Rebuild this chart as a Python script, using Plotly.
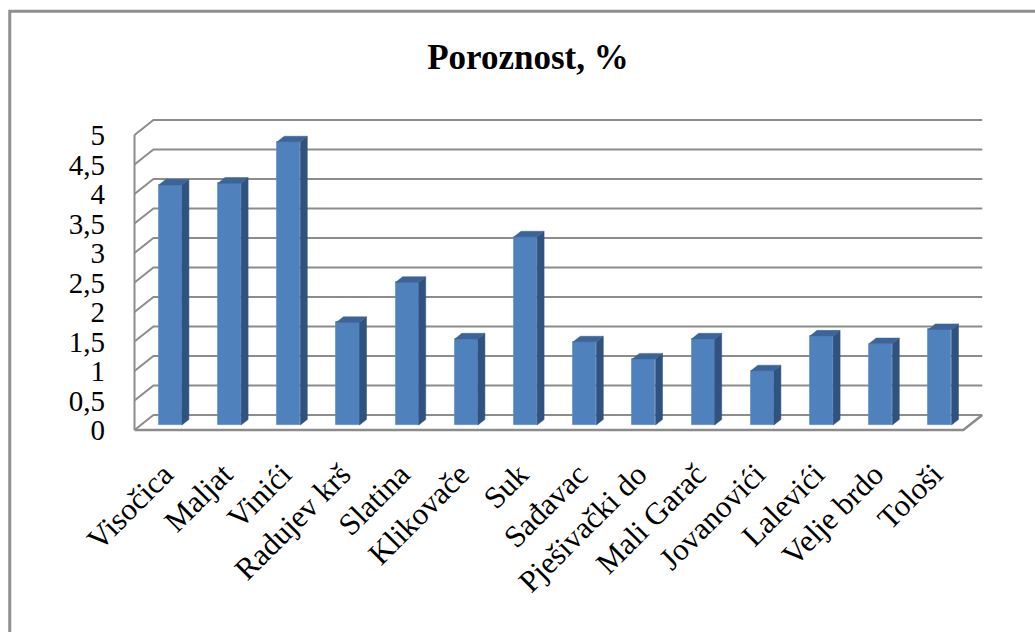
import plotly.graph_objects as go

# Poroznost (%) po lokalitetima
CATEGORIES = [
    "Visočica", "Maljat", "Vinići", "Radujev krš", "Slatina", "Klikovače",
    "Suk", "Sađavac", "Pješivački do", "Mali Garač", "Jovanovići",
    "Lalevići", "Velje brdo", "Tološi",
]
POROZNOST = [4.07, 4.10, 4.80, 1.74, 2.42, 1.46, 3.19, 1.41, 1.12, 1.46,
             0.92, 1.51, 1.38, 1.62]
Y_TICKS = [0, 0.5, 1, 1.5, 2, 2.5, 3, 3.5, 4, 4.5, 5]

# --- page / plot-area geometry (pixels) ---
W, H = 1035, 632
ML, MR, MT, MB = 120, 35, 100, 192
X_RANGE = [-0.845, 14.02]
Y_RANGE = [-0.1695, 5.593]

# --- oblique 3-D box, in data units ---
DEPTH_X, DEPTH_Y = 0.32, 0.255        # offset of the back wall from the front plane
FRONT_LEFT = -0.6
FRONT_RIGHT = FRONT_LEFT + len(CATEGORIES)
BAR_HALF = 0.195                      # half width of a column's front face
BAR_Z0, BAR_Z1 = 0.33, 0.70           # column front / back depth (fraction of box depth)

BLUE_FRONT = "#4f81bd"
BLUE_SIDE = "#30527f"
BLUE_TOP = "#3c6498"
GRID = "#8c8c8c"
FONT = "Liberation Serif"

n = len(CATEGORIES)
slot_centers = [FRONT_LEFT + 0.5 + i for i in range(n)]   # category centres on the front plane
face_x = [c + BAR_Z0 * DEPTH_X for c in slot_centers]     # column faces sit a bit deeper
bar_base = BAR_Z0 * DEPTH_Y
dzx = (BAR_Z1 - BAR_Z0) * DEPTH_X
dzy = (BAR_Z1 - BAR_Z0) * DEPTH_Y

fig = go.Figure()

# gridlines (left wall diagonal + back wall horizontal), drawn beneath the columns
for v in Y_TICKS:
    fig.add_shape(type="path", xref="x", yref="y", layer="below",
                  path="M {},{} L {},{} L {},{}".format(
                      FRONT_LEFT, v, FRONT_LEFT + DEPTH_X, v + DEPTH_Y,
                      FRONT_RIGHT + DEPTH_X, v + DEPTH_Y),
                  line=dict(color=GRID, width=2))

# left wall front edge and floor outline
fig.add_shape(type="line", xref="x", yref="y", layer="below",
              x0=FRONT_LEFT, y0=0, x1=FRONT_LEFT, y1=Y_TICKS[-1],
              line=dict(color=GRID, width=2))
fig.add_shape(type="path", xref="x", yref="y", layer="below",
              path="M {},{} L {},{} L {},{}".format(
                  FRONT_LEFT, 0, FRONT_RIGHT, 0, FRONT_RIGHT + DEPTH_X, DEPTH_Y),
              line=dict(color=GRID, width=2.5))

# column front faces
fig.add_trace(go.Bar(x=face_x, y=POROZNOST, base=bar_base, width=2 * BAR_HALF,
                     marker=dict(color=BLUE_FRONT, line=dict(color="#5b8cc8", width=0.8)),
                     showlegend=False, name="Poroznost, %"))

# column side faces and top faces
sx, sy, tx, ty = [], [], [], []
for xc, v in zip(face_x, POROZNOST):
    xl, xr = xc - BAR_HALF, xc + BAR_HALF
    top = bar_base + v
    sx += [xr, xr + dzx, xr + dzx, xr, xr, None]
    sy += [bar_base, bar_base + dzy, top + dzy, top, bar_base, None]
    tx += [xl, xr, xr + dzx, xl + dzx, xl, None]
    ty += [top, top, top + dzy, top + dzy, top, None]
fig.add_trace(go.Scatter(x=sx, y=sy, mode="lines", fill="toself",
                         fillcolor=BLUE_SIDE, line=dict(color=BLUE_SIDE, width=0.5),
                         hoverinfo="skip", showlegend=False))
fig.add_trace(go.Scatter(x=tx, y=ty, mode="lines", fill="toself",
                         fillcolor=BLUE_TOP, line=dict(color=BLUE_TOP, width=0.5),
                         hoverinfo="skip", showlegend=False))

# outer chart frame (open to the right and bottom)
pw, ph = W - ML - MR, H - MT - MB
def px_to_paper_x(px):
    return (px - ML) / pw
def px_to_paper_y(py):
    return (H - MB - py) / ph
fig.add_shape(type="path", xref="paper", yref="paper",
              path="M {:.4f},{:.4f} L {:.4f},{:.4f} L {:.4f},{:.4f}".format(
                  px_to_paper_x(9.7), px_to_paper_y(H + 20),
                  px_to_paper_x(9.7), px_to_paper_y(11.3),
                  px_to_paper_x(W + 20), px_to_paper_y(11.3)),
              line=dict(color="#8f8f8f", width=3))

fig.update_layout(
    width=W, height=H,
    margin=dict(l=ML, r=MR, t=MT, b=MB),
    paper_bgcolor="white", plot_bgcolor="white",
    separators=", ",
    bargap=0,
    title=dict(text="<b>Poroznost, %</b>", xref="container", yref="container",
               x=528 / W, y=1 - 57 / H, xanchor="center", yanchor="middle",
               font=dict(family=FONT, size=35, color="black")),
    xaxis=dict(range=X_RANGE, showgrid=False, zeroline=False, showline=False,
               tickmode="array", tickvals=slot_centers, ticktext=CATEGORIES,
               tickangle=-45, ticks="", ticklabelstandoff=9,
               tickfont=dict(family=FONT, size=31, color="black")),
    yaxis=dict(range=Y_RANGE, showgrid=False, zeroline=False, showline=False,
               tickmode="array", tickvals=Y_TICKS, ticks="",
               ticklabelstandoff=14,
               tickfont=dict(family=FONT, size=29, color="black")),
)

fig.write_html("out.html")
